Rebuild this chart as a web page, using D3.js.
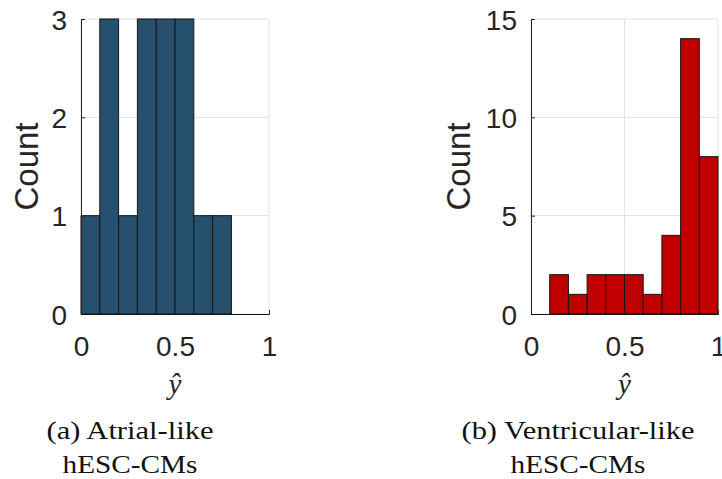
<!DOCTYPE html>
<html><head><meta charset="utf-8">
<script src="https://cdn.jsdelivr.net/npm/d3@7"></script>
<style>body{margin:0;background:#fff}svg{display:block}</style>
</head><body>
<script>
const binEdges = [0,0.1,0.2,0.3,0.4,0.5,0.6,0.7,0.8,0.9,1.0];
const atrialCounts = [1,3,1,3,3,3,1,1,0,0];
const ventricularCounts = [0,2,1,2,2,2,1,4,14,8];
const xTicks = [0,0.5,1];
const atrialYTicks = [0,1,2,3];
const ventricularYTicks = [0,5,10,15];
const captions = [["(a) Atrial-like","hESC-CMs"],["(b) Ventricular-like","hESC-CMs"]];

const W=722,H=479;
const svg=d3.select("body").append("svg").attr("width",W).attr("height",H);

const panels=[
  {counts:atrialCounts,yTicks:atrialYTicks,ymax:3,x0:81,x1:269,color:"#27506F",cap:captions[0],capX:130,labX:26,capW:[167,135]},
  {counts:ventricularCounts,yTicks:ventricularYTicks,ymax:15,x0:531,x1:718,color:"#C00000",cap:captions[1],capX:578,labX:458,capW:[233,135]}
];
const plotTop=19,plotBottom=314;
const tickFont="'Liberation Sans', Arial, Helvetica, sans-serif";
const txtColor="#262626";

panels.forEach(p=>{
  const x=d3.scaleLinear().domain([0,1]).range([p.x0,p.x1]);
  const y=d3.scaleLinear().domain([0,p.ymax]).range([plotBottom,plotTop]);
  const g=svg.append("g");
  g.selectAll(".gy").data(p.yTicks).join("line")
    .attr("x1",p.x0).attr("x2",p.x1).attr("y1",d=>y(d)).attr("y2",d=>y(d))
    .attr("stroke","#e1e1e1").attr("stroke-width",1);
  g.selectAll(".gx").data(xTicks).join("line")
    .attr("x1",d=>x(d)).attr("x2",d=>x(d)).attr("y1",plotTop).attr("y2",plotBottom)
    .attr("stroke","#e1e1e1").attr("stroke-width",1);
  const bins=p.counts.map((c,i)=>({a:binEdges[i],b:binEdges[i+1],c}));
  g.selectAll(".bar").data(bins).join("rect")
    .attr("x",d=>x(d.a)).attr("width",d=>x(d.b)-x(d.a))
    .attr("y",d=>y(d.c)).attr("height",d=>y(0)-y(d.c))
    .attr("fill",d=>d.c>0?p.color:"none").attr("stroke","#151515").attr("stroke-width",1);
  const ya=d3.axisLeft(y).tickValues(p.yTicks).tickSize(-4).tickPadding(14).tickFormat(d3.format("d"));
  const ay=g.append("g").attr("transform",`translate(${p.x0},0)`).call(ya);
  ay.select(".domain").attr("stroke","#262626");
  ay.selectAll(".tick line").attr("stroke","#262626");
  ay.selectAll("text").attr("font-family",tickFont).attr("font-size",28).attr("fill",txtColor).attr("dy","0.36em");
  const xa=d3.axisBottom(x).tickValues(xTicks).tickSize(-4).tickPadding(22).tickFormat(d=>d===0.5?"0.5":d3.format("d")(d));
  const ax=g.append("g").attr("transform",`translate(0,${plotBottom})`).call(xa);
  ax.select(".domain").attr("stroke","#151515");
  ax.selectAll(".tick line").attr("stroke","#262626");
  ax.selectAll("text").attr("font-family",tickFont).attr("font-size",28).attr("fill",txtColor).attr("dy","0.71em");
  svg.append("text").attr("transform",`translate(${p.labX+12},${(plotTop+plotBottom)/2}) rotate(-90)`)
    .attr("text-anchor","middle").attr("font-family",tickFont).attr("font-size",33).attr("fill",txtColor).text("Count");
  svg.append("text").attr("x",(p.x0+p.x1)/2).attr("y",394).attr("text-anchor","middle")
    .attr("font-family","'Liberation Serif','Times New Roman',serif").attr("font-style","italic")
    .attr("font-size",29).attr("fill",txtColor).text("ŷ");
  [439,473].forEach((by,i)=>{
    svg.append("text").attr("x",p.capX).attr("y",by).attr("text-anchor","middle")
      .attr("font-family","'Liberation Serif','Times New Roman',serif").attr("font-size",26)
      .attr("fill","#111").attr("textLength",p.capW[i]).attr("lengthAdjust","spacingAndGlyphs").text(p.cap[i]);
  });
});
</script>
</body></html>
